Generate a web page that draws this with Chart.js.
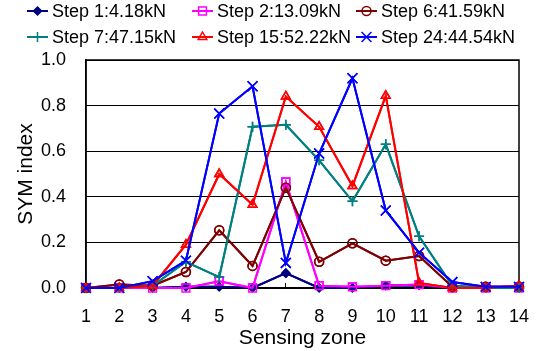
<!DOCTYPE html>
<html>
<head>
<meta charset="utf-8">
<script src="https://cdn.jsdelivr.net/npm/chart.js@4.4.0/dist/chart.umd.min.js"></script>
<style>
  html, body { margin: 0; padding: 0; background: #fff; }
  #wrap { width: 537px; height: 351px; position: relative; }
</style>
</head>
<body>
<div id="wrap"><canvas id="symChart"></canvas></div>
<script>
// sensing zones along the x axis
const zones = ['1', '2', '3', '4', '5', '6', '7', '8', '9', '10', '11', '12', '13', '14'];
const yStep = 0.2;

// SYM index per zone, one array per load step
const step1  = [0, 0, 0, 0.005, 0.005, 0, 0.065, 0, 0, 0.01, 0.012, 0, 0, 0.005];
const step2  = [0, 0, 0, 0, 0.03, 0, 0.465, 0.01, 0.005, 0.01, 0.015, 0, 0, 0];
const step6  = [0, 0.015, 0.01, 0.07, 0.253, 0.097, 0.44, 0.115, 0.196, 0.12, 0.14, 0.005, 0.005, 0.005];
const step7  = [0, 0, 0.01, 0.115, 0.048, 0.707, 0.716, 0.56, 0.38, 0.63, 0.227, 0.01, 0, 0];
const step15 = [0, 0, 0.01, 0.19, 0.5, 0.365, 0.84, 0.707, 0.447, 0.843, 0.022, 0, 0, 0.01];
const step24 = [0, 0, 0.03, 0.12, 0.765, 0.885, 0.11, 0.59, 0.92, 0.34, 0.155, 0.026, 0.005, 0.005];

const seriesNames = ['Step 1:4.18kN', 'Step 2:13.09kN', 'Step 6:41.59kN',
                     'Step 7:47.15kN', 'Step 15:52.22kN', 'Step 24:44.54kN'];

const FONT = '"Liberation Sans", Arial, sans-serif';
const none = 'rgba(0,0,0,0)';

function series(label, data, color, style, radius, fill, idx) {
  return {
    label: label,
    data: data,
    borderColor: color,
    borderWidth: 2,
    pointStyle: style,
    pointRadius: radius,
    pointBorderColor: color,
    pointBackgroundColor: fill,
    pointBorderWidth: 1.5,
    tension: 0,
    order: 6 - idx   // later series drawn on top, like the original
  };
}

const datasets = [
  series(seriesNames[0], step1,  '#000080', 'rectRot',  4, '#000080', 0),
  series(seriesNames[1], step2,  '#FF00FF', 'rect',     5.5, none, 1),
  series(seriesNames[2], step6,  '#800000', 'circle',   4.5, none, 2),
  series(seriesNames[3], step7,  '#008080', 'cross',    5, none, 3),
  series(seriesNames[4], step15, '#FF0000', 'triangle', 5, none, 4),
  series(seriesNames[5], step24, '#0000FF', 'crossRot', 7, none, 5)
];

// small marker for the legend, same shapes as the chart points
function legendMarker(ctx, style, r, x, y) {
  const d = r * Math.SQRT1_2;
  ctx.beginPath();
  if (style === 'rectRot') {
    ctx.moveTo(x, y - r); ctx.lineTo(x + r, y); ctx.lineTo(x, y + r); ctx.lineTo(x - r, y); ctx.closePath();
    ctx.fill(); ctx.stroke();
  } else if (style === 'rect') {
    ctx.rect(x - d, y - d, 2 * d, 2 * d);
    ctx.fill(); ctx.stroke();
  } else if (style === 'circle') {
    ctx.arc(x, y, r, 0, Math.PI * 2);
    ctx.fill(); ctx.stroke();
  } else if (style === 'triangle') {
    ctx.moveTo(x, y - r); ctx.lineTo(x + 0.866 * r, y + 0.5 * r); ctx.lineTo(x - 0.866 * r, y + 0.5 * r); ctx.closePath();
    ctx.fill(); ctx.stroke();
  } else if (style === 'cross') {
    ctx.moveTo(x - r, y); ctx.lineTo(x + r, y); ctx.moveTo(x, y - r); ctx.lineTo(x, y + r);
    ctx.stroke();
  } else if (style === 'crossRot') {
    ctx.moveTo(x - d, y - d); ctx.lineTo(x + d, y + d); ctx.moveTo(x + d, y - d); ctx.lineTo(x - d, y + d);
    ctx.stroke();
  }
}

// legend grid: line + marker + label, three columns by two rows
const legendCols = [27, 192, 356];
const legendRows = [11, 37];

function alignPx(p) { return Math.round(p - 0.5) + 0.5; }

const gridLegend = {
  id: 'gridLegend',
  afterDraw(chart) {
    const ctx = chart.ctx;
    const a = chart.chartArea;
    const ys = chart.scales.y;
    const xs = chart.scales.x;

    // grid lines, inward x tick marks and frame
    ctx.save();
    ctx.strokeStyle = '#000000';
    ctx.lineWidth = 1;
    ctx.beginPath();
    ys.ticks.forEach(t => {
      const py = alignPx(ys.getPixelForValue(t.value));
      ctx.moveTo(a.left, py);
      ctx.lineTo(a.right, py);
    });
    xs.ticks.forEach((t, i) => {
      const px = alignPx(xs.getPixelForTick(i));
      ctx.moveTo(px, a.bottom);
      ctx.lineTo(px, a.bottom - 5);
    });
    ctx.stroke();
    ctx.lineWidth = 1.5;
    ctx.strokeRect(a.left, a.top, a.right - a.left, a.bottom - a.top);
    ctx.restore();

    // put the series back on top of the grid, lowest order last
    chart.getSortedVisibleDatasetMetas().slice().reverse().forEach(meta => {
      ctx.save();
      meta.controller.draw();
      ctx.restore();
    });

    chart.data.datasets.forEach((ds, i) => {
      const x = legendCols[i % 3];
      const y = legendRows[Math.floor(i / 3)];
      ctx.save();
      ctx.strokeStyle = ds.borderColor;
      ctx.lineWidth = 2;
      ctx.beginPath();
      ctx.moveTo(x, y);
      ctx.lineTo(x + 21, y);
      ctx.stroke();
      ctx.fillStyle = ds.pointBackgroundColor;
      ctx.lineWidth = ds.pointBorderWidth;
      legendMarker(ctx, ds.pointStyle, ds.pointRadius, x + 10.5, y);
      ctx.fillStyle = '#000';
      ctx.font = '18px ' + FONT;
      ctx.textBaseline = 'middle';
      ctx.textAlign = 'left';
      ctx.fillText(ds.label, x + 25, y + 1);
      ctx.restore();
    });
  }
};

new Chart(document.getElementById('symChart'), {
  type: 'line',
  data: { labels: zones, datasets: datasets },
  plugins: [gridLegend],
  options: {
    responsive: true,
    maintainAspectRatio: false,
    animation: false,
    layout: { padding: { top: 60, left: 10, right: 18, bottom: 0 } },
    plugins: {
      legend: { display: false },
      tooltip: { enabled: false }
    },
    scales: {
      x: {
        type: 'category',
        offset: false,
        grid: { display: true, drawOnChartArea: false, drawTicks: true, tickLength: 5, color: none },
        border: { color: '#000', width: 2 },
        ticks: { color: '#000', font: { family: FONT, size: 18 }, padding: 13, maxRotation: 0, autoSkip: false },
        title: { display: true, text: 'Sensing zone', color: '#000', font: { family: FONT, size: 21 }, padding: { top: 0, bottom: 0 } },
        afterFit(s) { s.height = 63; s.paddingLeft = 0; s.paddingRight = 0; }
      },
      y: {
        min: 0,
        max: 1,
        grid: { display: true, color: none, drawTicks: false },
        border: { color: '#000', width: 1.5 },
        ticks: { stepSize: yStep, color: '#000', font: { family: FONT, size: 18 }, padding: 20, callback: v => v.toFixed(1) },
        title: { display: true, text: 'SYM index', color: '#000', font: { family: FONT, size: 21 }, padding: 4 },
        afterFit(s) { s.width = 76; }
      }
    }
  }
});
</script>
</body>
</html>
